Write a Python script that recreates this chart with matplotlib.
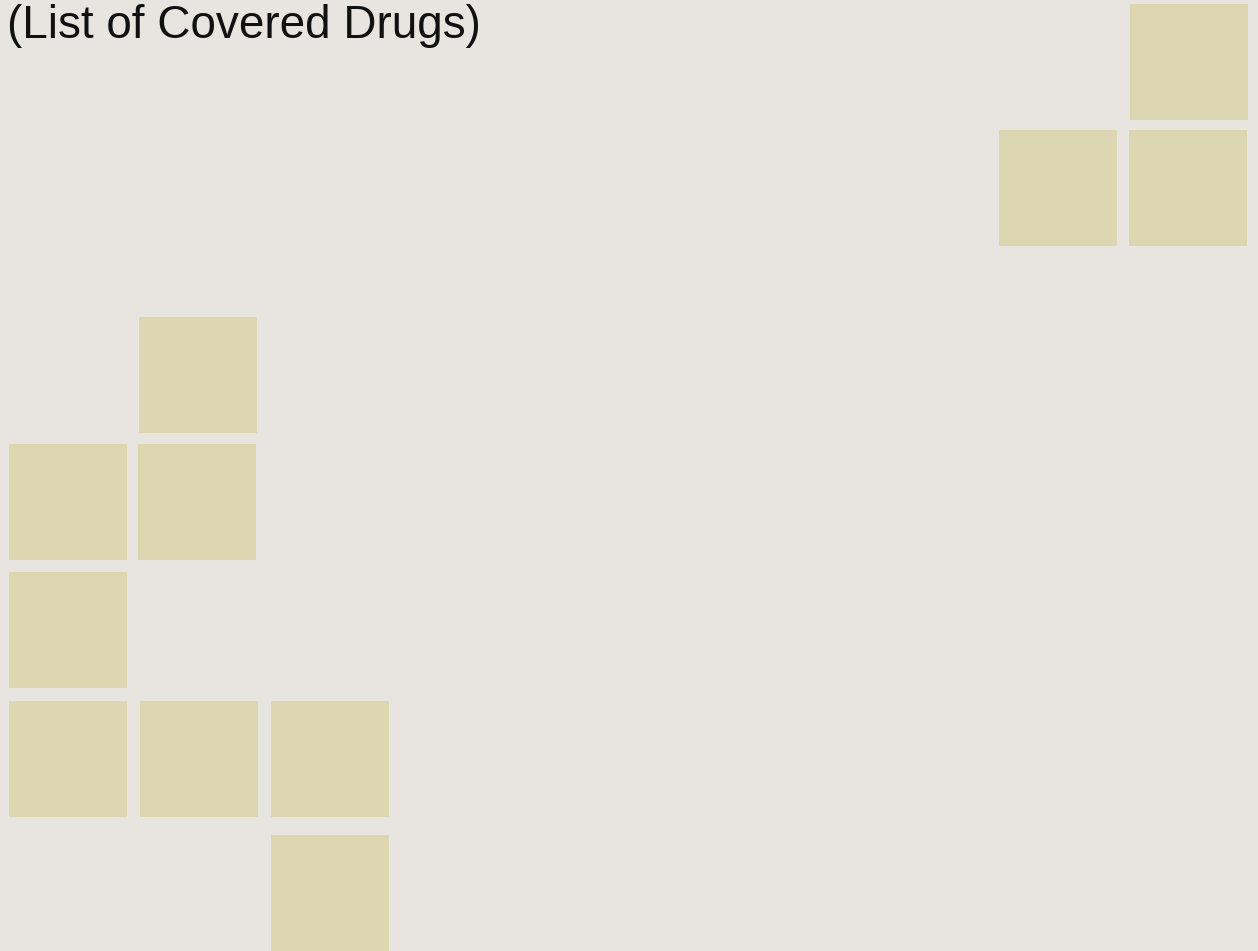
import matplotlib.pyplot as plt
from matplotlib.patches import Rectangle

# pixel-space layout of the tiles (left, top), each about 118 x 116
tile_left = [1130, 999, 1129, 139, 9, 138, 9, 9, 140, 271, 271]
tile_top = [4, 130, 130, 317, 444, 444, 572, 701, 701, 701, 835]
tile_w = 118
tile_h = 116

title = "(List of Covered Drugs)"

bg = "#e8e4e0"
tile_color = "#dcd7b0"

fig = plt.figure(figsize=(12.58, 9.51), dpi=100)
fig.patch.set_facecolor(bg)
ax = fig.add_axes([0, 0, 1, 1])
ax.set_facecolor(bg)
ax.set_xlim(0, 1258)
ax.set_ylim(951, 0)
ax.axis('off')

for x, y in zip(tile_left, tile_top):
    ax.add_patch(Rectangle((x, y), tile_w, tile_h, facecolor=tile_color, edgecolor='none'))

ax.text(7, 38, title, fontsize=33, family='Liberation Sans', color='#111111',
        ha='left', va='baseline')

fig.savefig('out.png', dpi=100, facecolor=bg)
